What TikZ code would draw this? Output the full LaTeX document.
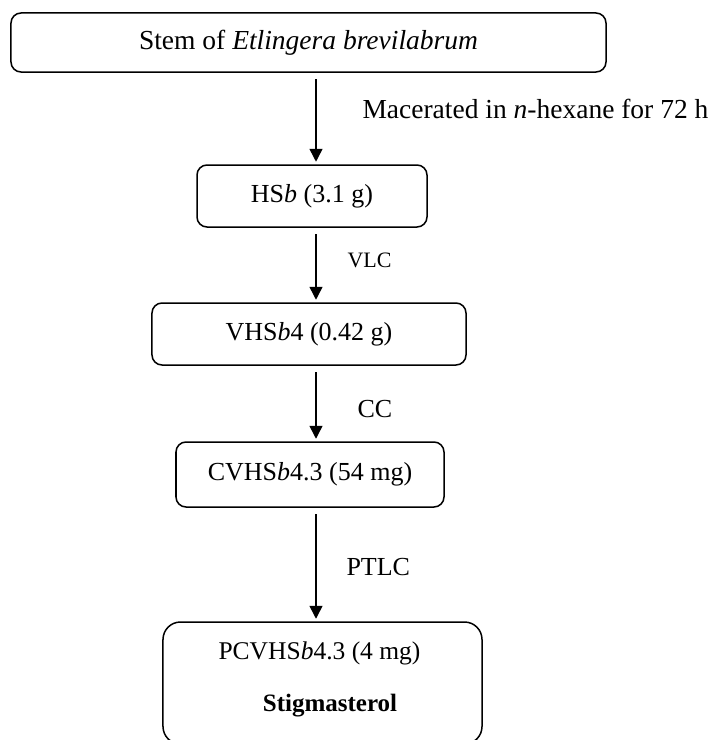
\documentclass[tikz,border=0pt]{standalone}
\usepackage{fontspec}
\setmainfont{Liberation Serif}
\usetikzlibrary{positioning}
\usetikzlibrary{arrows.meta}

\tikzset{
  stagebox/.style={draw, rounded corners=4pt, line width=0.6pt, inner sep=0pt,
    font=\fontsize{10.4}{12.5}\selectfont},
  flow/.style={-{Triangle[length=5.2pt,width=5.2pt]}, line width=0.6pt,
    shorten <=2.6pt, shorten >=1pt},
  steplabel/.style={anchor=base west, inner sep=0pt, font=\fontsize{10.4}{12.5}\selectfont}
}

\begin{document}
\begin{tikzpicture}[x=0.4pt, y=-0.4pt]
  \useasboundingbox (0,0) rectangle (714,740);

  % Stages
  \node[stagebox, minimum width=238pt, minimum height=23.6pt,
    font=\fontsize{11}{13}\selectfont] (stem) at (308.5,42.5) {Stem of \textit{Etlingera brevilabrum}};
  \node[stagebox, minimum width=92pt, minimum height=24.8pt] (hsb) at (312,196) {HS\textit{b} (3.1 g)};
  \node[stagebox, minimum width=125.6pt, minimum height=24.8pt] (vhsb) at (309,334) {VHS\textit{b}4 (0.42 g)};
  \node[stagebox, minimum width=107.2pt, minimum height=26pt] (cvhsb) at (310,474.5) {CVHS\textit{b}4.3 (54 mg)};
  \node[stagebox, minimum width=127.6pt, minimum height=48.8pt, rounded corners=7pt] (pcvhsb) at (322.5,683) {};
  \node[anchor=base, inner sep=0pt, font=\fontsize{10.2}{12}\selectfont] (pcvhsbText) at (319.5,659) {PCVHS\textit{b}4.3 (4 mg)};
  \node[anchor=base, inner sep=0pt, font=\fontsize{10}{12}\selectfont\bfseries] (stigma) at (330,711) {Stigmasterol};

  % Steps
  \coordinate (axis) at (316,0);
  \foreach \a/\b in {stem/hsb, hsb/vhsb, vhsb/cvhsb, cvhsb/pcvhsb}
    \draw[flow] (\a.south -| axis) -- (\b.north -| axis);

  % Step labels
  \node[steplabel, font=\fontsize{11}{13}\selectfont] (macer) at (362,118) {Macerated in \textit{n}-hexane for 72 h};
  \node[steplabel, font=\fontsize{8.8}{10}\selectfont] (vlc) at (347,267) {VLC};
  \node[steplabel] (cc) at (357,417) {CC};
  \node[steplabel] (ptlc) at (346,575) {PTLC};
\end{tikzpicture}
\end{document}
